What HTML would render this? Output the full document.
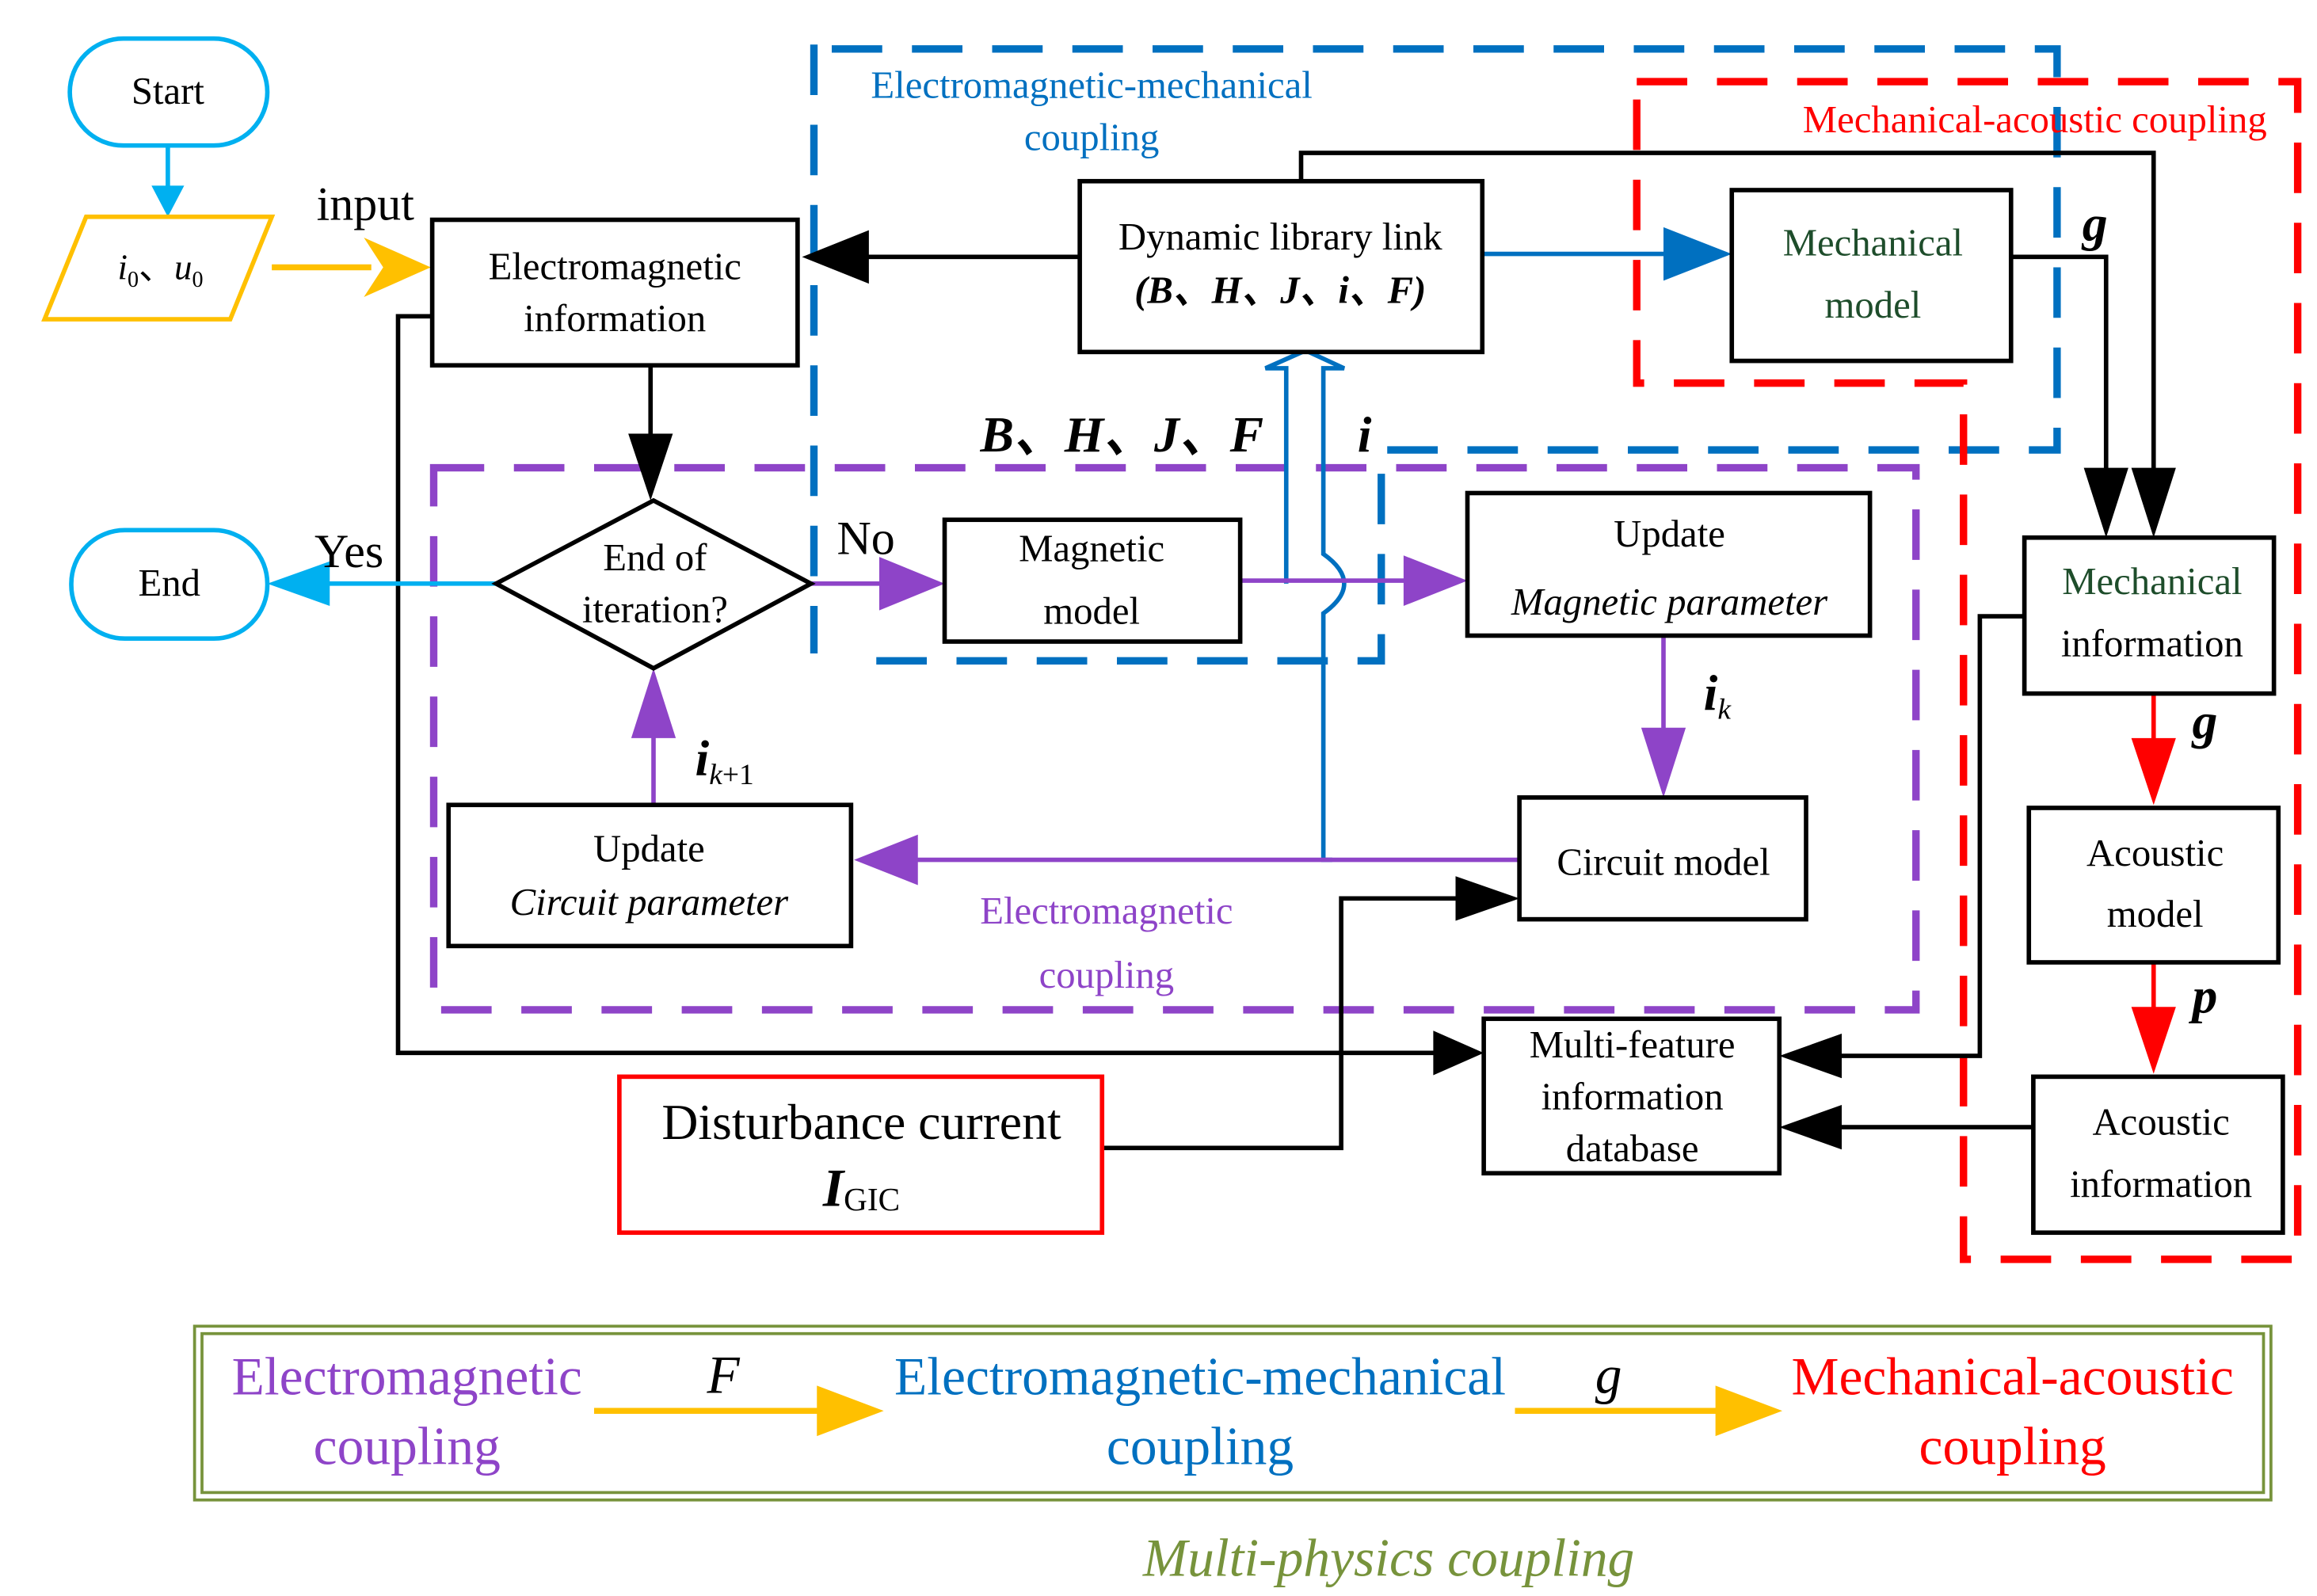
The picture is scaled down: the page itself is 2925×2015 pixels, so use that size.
<!DOCTYPE html>
<html><head><meta charset="utf-8"><style>
html,body{margin:0;padding:0;background:#fff;}
svg{display:block;}
text{font-family:"Liberation Serif",serif;}
</style></head><body>
<svg width="2925" height="2015" viewBox="0 0 1560 1074.67" xmlns="http://www.w3.org/2000/svg">
<defs>
<marker id="ak" markerWidth="10" markerHeight="10" refX="9" refY="5" orient="auto" markerUnits="userSpaceOnUse" viewBox="0 0 10 10"><path d="M0,0 L10,5 L0,10z" fill="#000"/></marker>
</defs>
<rect width="1560" height="1075" fill="#fff"/>

<!-- dashed regions -->
<g fill="none" stroke-width="5" stroke-dasharray="34,20">
<path d="M548,30 L548,440 M560,33 L1385,33 L1385,303 L930,303 L930,445 L570,445" stroke="#0070C0"/>
<path d="M1102,55 L1547,55 L1547,848 L1322,848 L1322,258 L1102,258 Z" stroke="#FF0000"/>
<rect x="292" y="315" width="998" height="365" stroke="#8E44C8"/>
</g>

<!-- Start / End -->
<rect x="47" y="26" width="133" height="72" rx="36" fill="#fff" stroke="#00B0F0" stroke-width="3"/>
<text x="113" y="70" font-size="26" text-anchor="middle">Start</text>
<line x1="113" y1="98" x2="113" y2="128" stroke="#00B0F0" stroke-width="3"/>
<path d="M102,125 L124,125 L113,146z" fill="#00B0F0"/>
<rect x="48" y="357" width="132" height="73" rx="36" fill="#fff" stroke="#00B0F0" stroke-width="3"/>
<text x="114" y="401" font-size="26" text-anchor="middle">End</text>

<!-- parallelogram -->
<path d="M30,215 L58,146 L183,146 L155,215z" fill="#fff" stroke="#FFC000" stroke-width="3"/>
<text x="108" y="188" font-size="24" text-anchor="middle" font-style="italic">i<tspan font-size="15" dy="5" font-style="normal">0</tspan><tspan dy="-5" font-style="normal">、</tspan>u<tspan font-size="15" dy="5" font-style="normal">0</tspan></text>
<line x1="183" y1="180" x2="250" y2="180" stroke="#FFC000" stroke-width="4"/>
<path d="M245,160 L290,180 L245,200 L258,180z" fill="#FFC000"/>
<text x="246" y="148" font-size="32" text-anchor="middle">input</text>

<!-- black connectors -->
<g stroke="#000" stroke-width="3" fill="none">
<line x1="727" y1="173" x2="580" y2="173"/>
<path d="M876,122 L876,103 L1450,103 L1450,320"/>
<path d="M1354,173 L1418,173 L1418,320"/>
<line x1="438" y1="246" x2="438" y2="300"/>
<line x1="1369" y1="759" x2="1230" y2="759"/>
<path d="M1363,415 L1333,415 L1333,711 L1230,711"/>
<path d="M291,213 L268,213 L268,709 L970,709"/>
<path d="M742,773 L903,773 L903,605 L985,605"/>
</g>
<g fill="#000">
<path d="M585,155 L540,173 L585,191z"/>
<path d="M1435,315 L1465,315 L1450,362z"/>
<path d="M1403,315 L1433,315 L1418,362z"/>
<path d="M423,292 L453,292 L438,337z"/>
<path d="M1240,744 L1198,759 L1240,774z"/>
<path d="M1240,696 L1198,711 L1240,726z"/>
<path d="M965,694 L999,709 L965,724z"/>
<path d="M980,590 L1023,605 L980,620z"/>
</g>

<!-- blue connectors -->
<line x1="998" y1="171" x2="1125" y2="171" stroke="#0070C0" stroke-width="3"/>
<path d="M1120,153 L1166,171 L1120,189z" fill="#0070C0"/>
<g stroke="#0070C0" stroke-width="3" fill="none">
<path d="M866,393 L866,248 L852,248 L879,236 L905,248 L891,248 L891,373 Q905,383 905,393 Q905,403 891,413 L891,579 L897,579"/>
</g>
<line x1="334" y1="393" x2="215" y2="393" stroke="#00B0F0" stroke-width="3"/>
<path d="M222,378 L180,393 L222,408z" fill="#00B0F0"/>

<!-- purple connectors -->
<g stroke="#8E44C8" stroke-width="3" fill="none">
<line x1="546" y1="393" x2="600" y2="393"/>
<line x1="835" y1="391" x2="950" y2="391"/>
<line x1="1120" y1="428" x2="1120" y2="500"/>
<line x1="1023" y1="579" x2="610" y2="579"/>
<line x1="440" y1="542" x2="440" y2="490"/>
</g>
<g fill="#8E44C8">
<path d="M592,375 L636,393 L592,411z"/>
<path d="M945,374 L988,391 L945,408z"/>
<path d="M1105,490 L1135,490 L1120,537z"/>
<path d="M618,562 L575,579 L618,596z"/>
<path d="M425,497 L455,497 L440,450z"/>
</g>

<!-- red connectors -->
<line x1="1450" y1="467" x2="1450" y2="505" stroke="#FF0000" stroke-width="3"/>
<path d="M1435,497 L1465,497 L1450,542z" fill="#FF0000"/>
<line x1="1450" y1="648" x2="1450" y2="686" stroke="#FF0000" stroke-width="3"/>
<path d="M1435,678 L1465,678 L1450,723z" fill="#FF0000"/>

<!-- boxes -->
<g fill="#fff" stroke="#000" stroke-width="3">
<rect x="291" y="148" width="246" height="98"/>
<rect x="727" y="122" width="271" height="115"/>
<rect x="1166" y="128" width="188" height="115"/>
<rect x="1363" y="362" width="168" height="105"/>
<rect x="1366" y="544" width="168" height="104"/>
<rect x="1369" y="725" width="168" height="105"/>
<rect x="999" y="686" width="199" height="104"/>
<rect x="1023" y="537" width="193" height="82"/>
<rect x="988" y="332" width="271" height="96"/>
<rect x="636" y="350" width="199" height="82"/>
<rect x="302" y="542" width="271" height="95"/>
<path d="M334,393 L440,337 L546,393 L440,450z"/>
</g>
<rect x="417" y="725" width="325" height="105" fill="#fff" stroke="#FF0000" stroke-width="3"/>

<g font-size="26" text-anchor="middle">
<text x="414" y="188">Electromagnetic</text>
<text x="414" y="223">information</text>
<text x="862" y="168">Dynamic library link</text>
<text x="862" y="204" font-weight="bold" font-style="italic">(B、H、J、i、F)</text>
<text x="1261" y="172" fill="#1E4D2B">Mechanical</text>
<text x="1261" y="214" fill="#1E4D2B">model</text>
<text x="1449" y="400" fill="#1E4D2B">Mechanical</text>
<text x="1449" y="442">information</text>
<text x="1451" y="583">Acoustic</text>
<text x="1451" y="624">model</text>
<text x="1455" y="764">Acoustic</text>
<text x="1455" y="806">information</text>
<text x="1099" y="712">Multi-feature</text>
<text x="1099" y="747">information</text>
<text x="1099" y="782">database</text>
<text x="1120" y="589">Circuit model</text>
<text x="1124" y="368">Update</text>
<text x="1124" y="414" font-style="italic">Magnetic parameter</text>
<text x="735" y="378">Magnetic</text>
<text x="735" y="420">model</text>
<text x="437" y="580">Update</text>
<text x="437" y="616" font-style="italic">Circuit parameter</text>
<text x="441" y="384">End of</text>
<text x="441" y="419">iteration?</text>
<text x="580" y="767" font-size="34">Disturbance current</text>
<text x="580" y="812" font-size="36" font-weight="bold" font-style="italic">I<tspan font-size="22" font-weight="normal" font-style="normal" dy="3">GIC</tspan></text>
<text x="235" y="382" font-size="32">Yes</text>
<text x="583" y="373" font-size="32">No</text>
<text x="735" y="66" fill="#0070C0">Electromagnetic-mechanical</text>
<text x="735" y="101" fill="#0070C0">coupling</text>
<text x="1370" y="89" fill="#FF0000">Mechanical-acoustic coupling</text>
<text x="745" y="622" fill="#8E44C8">Electromagnetic</text>
<text x="745" y="665" fill="#8E44C8">coupling</text>
</g>
<g font-size="34" font-weight="bold" font-style="italic">
<text x="660" y="304">B、H、J、F</text>
<text x="914" y="304">i</text>
<text x="1402" y="162">g</text>
<text x="1476" y="497">g</text>
<text x="1476" y="682">p</text>
<text x="1147" y="478">i<tspan font-size="20" font-weight="normal" dy="6">k</tspan></text>
<text x="468" y="522">i<tspan font-size="20" font-weight="normal" font-style="italic" dy="6">k</tspan><tspan font-size="20" font-weight="normal" font-style="normal">+1</tspan></text>
</g>

<!-- legend -->
<rect x="131" y="893" width="1398" height="117" fill="none" stroke="#77933C" stroke-width="2"/>
<rect x="136" y="898" width="1388" height="107" fill="none" stroke="#77933C" stroke-width="2"/>
<g font-size="36" text-anchor="middle">
<text x="274" y="939" fill="#8E44C8">Electromagnetic</text>
<text x="274" y="986" fill="#8E44C8">coupling</text>
<text x="808" y="939" fill="#0070C0">Electromagnetic-mechanical</text>
<text x="808" y="986" fill="#0070C0">coupling</text>
<text x="1355" y="939" fill="#FF0000">Mechanical-acoustic</text>
<text x="1355" y="986" fill="#FF0000">coupling</text>
<text x="487" y="938" font-style="italic">F</text>
<text x="1083" y="938" font-style="italic">g</text>
<text x="935" y="1061" font-style="italic" fill="#77933C">Multi-physics coupling</text>
</g>
<line x1="400" y1="950" x2="560" y2="950" stroke="#FFC000" stroke-width="4"/>
<path d="M550,933 L595,950 L550,967z" fill="#FFC000"/>
<line x1="1020" y1="950" x2="1165" y2="950" stroke="#FFC000" stroke-width="4"/>
<path d="M1155,933 L1200,950 L1155,967z" fill="#FFC000"/>
</svg>
</body></html>
